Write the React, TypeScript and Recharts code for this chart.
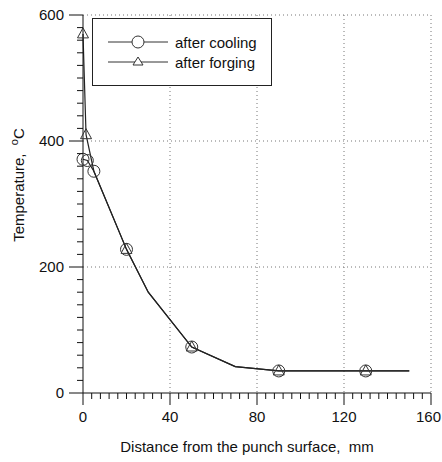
import { ComposedChart, Line, Scatter, XAxis, YAxis, CartesianGrid } from "recharts";

// curve through the measured points (extra knots at 30 and 70 mm)
const coolingX = [0, 2, 5, 20, 30, 50, 70, 90, 130, 150];
const coolingT = [371, 369, 352, 228, 160, 73, 42, 35, 35, 35];
const forgingX = [0, 1.4, 5, 20, 30, 50, 70, 90, 130, 150];
const forgingT = [570, 410, 352, 228, 160, 73, 42, 35, 35, 35];

// marker positions
const coolingMarkX = [0, 2, 5, 20, 50, 90, 130];
const coolingMarkT = [371, 369, 352, 228, 73, 35, 35];
const forgingMarkX = [0, 1.4, 20, 50, 90, 130];
const forgingMarkT = [570, 410, 228, 73, 35, 35];

const seriesNames = ["after cooling", "after forging"];

const xTicks = Array.from({ length: 41 }, (_, i) => i * 4);
const yTicks = Array.from({ length: 31 }, (_, i) => i * 20);

const zip = (xs: number[], ys: number[]) => xs.map((x, i) => ({ x, y: ys[i] }));

const FONT = "'Liberation Sans', Arial, sans-serif";

const YTick = (props: any) => {
  const { x, y, payload } = props;
  const major = payload.value % 200 === 0;
  return (
    <g>
      <line x1={x} x2={x - (major ? 14 : 6)} y1={y} y2={y} stroke="#111" />
      {major && (
        <text x={x - 19} y={y + 5} textAnchor="end" fontSize={15} fontFamily={FONT} fill="#111">
          {payload.value}
        </text>
      )}
    </g>
  );
};

const XTick = (props: any) => {
  const { x, y, payload } = props;
  const major = payload.value % 40 === 0;
  const last = payload.value === 160;
  return (
    <g>
      <line x1={x} x2={x} y1={y} y2={y + (major ? 12 : 6)} stroke="#111" />
      {major && (
        <text
          x={last ? x + 10 : x}
          y={y + 29}
          textAnchor={last ? "end" : "middle"}
          fontSize={15}
          fontFamily={FONT}
          fill="#111"
        >
          {payload.value}
        </text>
      )}
    </g>
  );
};

const Circle = (props: any) => (
  <circle cx={props.cx} cy={props.cy} r={6} fill="none" stroke="#333" strokeWidth={1} />
);

const Triangle = (props: any) => {
  const { cx, cy } = props;
  return (
    <path
      d={`M${cx},${cy - 6} L${cx + 5.5},${cy + 4} L${cx - 5.5},${cy + 4} Z`}
      fill="none"
      stroke="#333"
      strokeWidth={1}
    />
  );
};

const LegendBox = () => (
  <div
    style={{
      position: "absolute",
      left: 92,
      top: 18,
      border: "1px solid #222",
      width: 180,
      height: 68,
      boxSizing: "border-box",
      background: "#fff",
    }}
  >
    {seriesNames.map((name, i) => (
      <div key={name} style={{ display: "flex", alignItems: "center", height: 20, marginTop: i === 0 ? 13 : 0 }}>
        <svg width={82} height={20}>
          <line x1={15} x2={75} y1={10} y2={10} stroke="#333" />
          {i === 0 ? (
            <circle cx={45} cy={10} r={6} fill="#fff" stroke="#333" />
          ) : (
            <path d="M45,5 L50,13 L40,13 Z" fill="#fff" stroke="#333" />
          )}
        </svg>
        <span style={{ fontFamily: FONT, fontSize: 15, color: "#111" }}>{name}</span>
      </div>
    ))}
  </div>
);

export default function App() {
  return (
    <div style={{ position: "absolute", left: 0, top: 0, width: 442, height: 462, background: "#fff" }}>
      <ComposedChart width={442} height={462} margin={{ top: 15, right: 11, bottom: 0, left: 0 }}>
        <CartesianGrid
          stroke="#777"
          strokeDasharray="1 3"
          horizontalValues={[200, 400, 600]}
          verticalValues={[40, 80, 120, 160]}
        />
        <XAxis
          type="number"
          dataKey="x"
          domain={[0, 160]}
          ticks={xTicks}
          interval={0}
          tickSize={0}
          tickMargin={0}
          tickLine={false}
          tick={<XTick />}
          height={69}
          stroke="#111"
          label={{
            content: () => (
              <text x={247} y={452} textAnchor="middle" fontSize={15} fontFamily={FONT} fill="#111">
                {"Distance from the punch surface,\u00A0 mm"}
              </text>
            ),
          }}
        />
        <YAxis
          type="number"
          dataKey="y"
          domain={[0, 600]}
          ticks={yTicks}
          interval={0}
          tickSize={0}
          tickMargin={0}
          tickLine={false}
          tick={<YTick />}
          width={83}
          stroke="#111"
          label={{
            content: () => (
              <text
                x={24}
                y={185}
                transform="rotate(-90 24 185)"
                textAnchor="middle"
                fontSize={15}
                fontFamily={FONT}
                fill="#111"
              >
                {"Temperature,\u00A0 "}
                <tspan fontSize={11} dy={-6}>o</tspan>
                <tspan dy={6}>C</tspan>
              </text>
            ),
          }}
        />
        <Line data={zip(coolingX, coolingT)} dataKey="y" stroke="#222" strokeWidth={1.2} dot={false} isAnimationActive={false} />
        <Line data={zip(forgingX, forgingT)} dataKey="y" stroke="#222" strokeWidth={1.2} dot={false} isAnimationActive={false} />
        <Scatter data={zip(coolingMarkX, coolingMarkT)} dataKey="y" shape={<Circle />} isAnimationActive={false} />
        <Scatter data={zip(forgingMarkX, forgingMarkT)} dataKey="y" shape={<Triangle />} isAnimationActive={false} />
      </ComposedChart>
      <LegendBox />
    </div>
  );
}
